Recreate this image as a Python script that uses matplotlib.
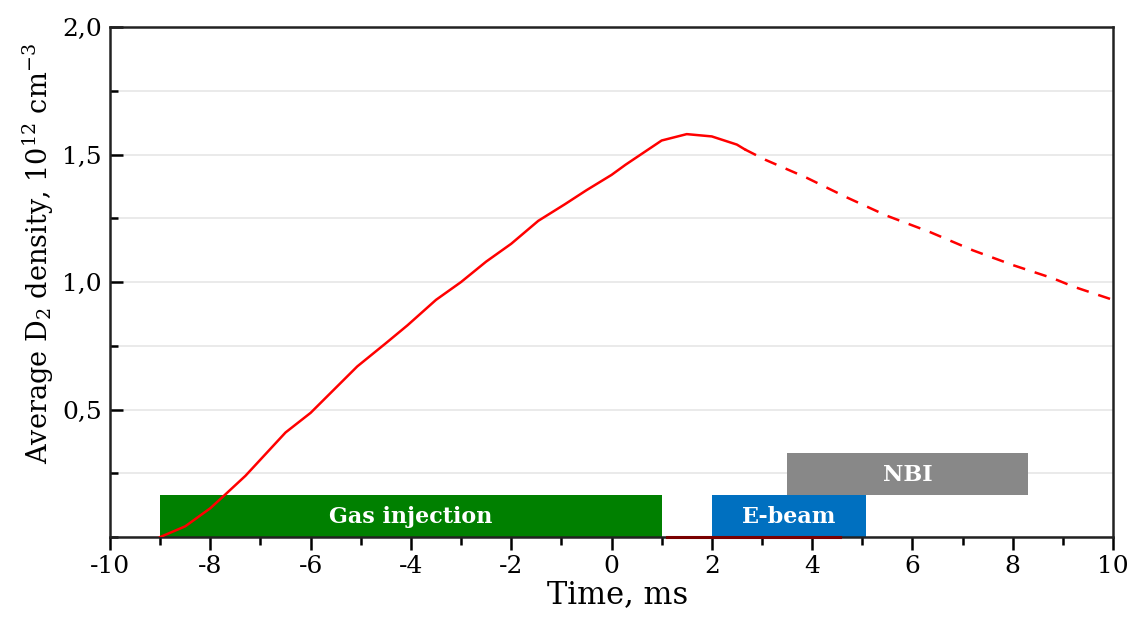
import matplotlib
matplotlib.use('Agg')
import matplotlib.pyplot as plt
from matplotlib.ticker import MultipleLocator, FixedLocator, FuncFormatter

plt.rcParams['font.family'] = ['DejaVu Serif']
plt.rcParams['axes.unicode_minus'] = False
plt.rcParams['mathtext.default'] = 'regular'

# Average D2 density, measured part (solid) and extrapolated tail (dashed)
time_meas = [-9.0, -8.5, -8.0, -7.75, -7.3, -6.5, -6.0, -5.07, -4.5, -4.07, -3.5,
             -3.0, -2.5, -2.0, -1.46, -0.93, -0.5, 0.0, 0.28, 1.0, 1.5, 2.0, 2.5, 2.66]
dens_meas = [0.0, 0.042, 0.113, 0.158, 0.24, 0.41, 0.487, 0.669, 0.76, 0.83, 0.93,
             1.0, 1.08, 1.15, 1.24, 1.305, 1.36, 1.42, 1.46, 1.555, 1.58, 1.571, 1.539, 1.52]
time_tail = [2.66, 3.06, 3.89, 4.69, 5.49, 6.35, 7.21, 8.01, 8.81, 9.21, 10.0]
dens_tail = [1.52, 1.48, 1.409, 1.332, 1.26, 1.196, 1.124, 1.066, 1.014, 0.982, 0.930]

# zero-level segment along the bottom
time_zero = [1.1, 4.55]
dens_zero = [0.0, 0.0]

# timing bars: label, start, end, bottom, top, colour
phases = ['Gas injection', 'E-beam', 'NBI']
phase_start = [-9.0, 2.0, 3.5]
phase_end = [1.0, 5.07, 8.3]
phase_low = [0.0, 0.0, 0.165]
phase_high = [0.165, 0.165, 0.33]
phase_colors = ['#008000', '#0070c0', '#888888']

fig = plt.figure(figsize=(11.32, 6.27), dpi=100)
ax = fig.add_axes([0.0972, 0.1435, 0.886, 0.8134])

for name, x0, x1, y0, y1, c in zip(phases, phase_start, phase_end, phase_low, phase_high, phase_colors):
    ax.fill_between([x0, x1], y0, y1, color=c, lw=0, zorder=2)
    ax.text((x0 + x1) / 2, (y0 + y1) / 2 - 0.005, name, color='white', fontsize=16,
            fontweight='bold', ha='center', va='center', zorder=3)

ax.plot(time_zero, dens_zero, color='#7a0000', lw=2.2, zorder=4, clip_on=False)
ax.plot(time_meas, dens_meas, color='#ff0000', lw=1.8, zorder=5)
ax.plot(time_tail, dens_tail, color='#ff0000', lw=1.8, ls=(0, (5, 4)), zorder=5)

ax.set_xlim(-10, 10)
ax.set_ylim(0, 2.0)

ax.xaxis.set_major_locator(MultipleLocator(2))
ax.xaxis.set_minor_locator(MultipleLocator(1))
ax.yaxis.set_major_locator(FixedLocator([0.5, 1.0, 1.5, 2.0]))
ax.yaxis.set_minor_locator(MultipleLocator(0.25))
ax.yaxis.set_major_formatter(FuncFormatter(lambda v, p: f'{v:.1f}'.replace('.', ',')))

ax.grid(True, which='both', axis='y', color='#e6e6e6', lw=1.2, zorder=0)
ax.set_axisbelow(True)

ax.tick_params(axis='x', which='major', direction='out', length=9, width=1.8, labelsize=18, pad=4)
ax.tick_params(axis='x', which='minor', direction='out', length=6, width=1.8)
ax.tick_params(axis='y', which='major', direction='in', length=9, width=1.8, labelsize=18, pad=6)
ax.tick_params(axis='y', which='minor', direction='in', length=6, width=1.8)

for s in ax.spines.values():
    s.set_linewidth(1.8)
    s.set_color('#222222')

ax.set_xlabel('Time, ms', fontsize=22, labelpad=1)
ax.xaxis.label.set_x(0.506)
ax.set_ylabel('Average D$_2$ density, 10$^{12}$ cm$^{-3}$', fontsize=19.5, labelpad=4)
ax.yaxis.label.set_y(0.555)

fig.savefig('out.png', dpi=100)
